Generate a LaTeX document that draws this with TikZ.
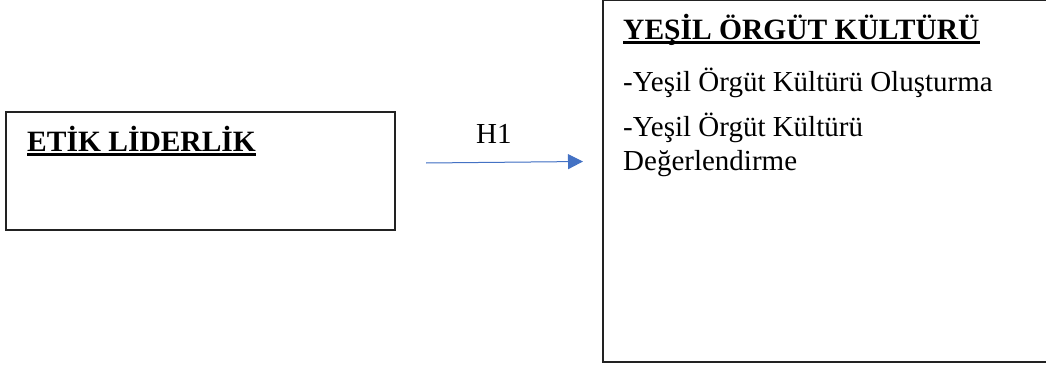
\documentclass[tikz,border=0pt]{standalone}
\usepackage{fontspec}
\setmainfont{Liberation Serif}
\usetikzlibrary{arrows.meta}
\definecolor{linkblue}{HTML}{4472C4}
\definecolor{boxline}{HTML}{222222}

\begin{document}
\begin{tikzpicture}[x=1pt,y=-1pt,
  boxframe/.style={draw=boxline,line width=1.2pt,inner sep=0pt},
  heading/.style={font=\fontsize{29.5}{33}\selectfont\bfseries,inner sep=0pt,anchor=base west},
  bodytext/.style={font=\fontsize{29}{33}\selectfont,inner sep=0pt,anchor=base west},
  headrule/.style={line width=3pt,line cap=butt},
  link/.style={draw=linkblue,line width=1pt,-{Triangle[length=15pt,width=15pt]},fill=linkblue}]
\useasboundingbox (0,0) rectangle (1046,369);

% left box: Etik Liderlik
\node[boxframe,minimum width=389pt,minimum height=118pt] (leftbox) at (200.5,171) {};
\node[heading] (lefttitle) at (27,151.7) {ETİK LİDERLİK};
\draw[headrule] ([yshift=-2.3pt]lefttitle.base west) -- ([yshift=-2.3pt]lefttitle.base east);

% right box: Yeşil Örgüt Kültürü (runs past the right margin)
\begin{scope}
  \clip (0,0) rectangle (1046,369);
  \node[boxframe,minimum width=457pt,minimum height=361.4pt] (rightbox) at (831.5,181.3) {};
\end{scope}
\node[heading] (righttitle) at (623,40) {YEŞİL ÖRGÜT KÜLTÜRÜ};
\draw[headrule] ([yshift=-2.8pt]righttitle.base west) -- ([yshift=-2.8pt]righttitle.base east);
\node[bodytext] (item1) at (623,91.7) {-Yeşil Örgüt Kültürü Oluşturma};
\node[bodytext] (item2a) at (623,136.7) {-Yeşil Örgüt Kültürü};
\node[bodytext] (item2b) at (623,170) {Değerlendirme};

% hypothesis arrow
\coordinate (linkstart) at (426,163);
\coordinate (linkend) at (583,161.5);
\draw[link] (linkstart) -- (linkend);
\node[bodytext] (hlabel) at (476,143.3) {H1};
\end{tikzpicture}
\end{document}
